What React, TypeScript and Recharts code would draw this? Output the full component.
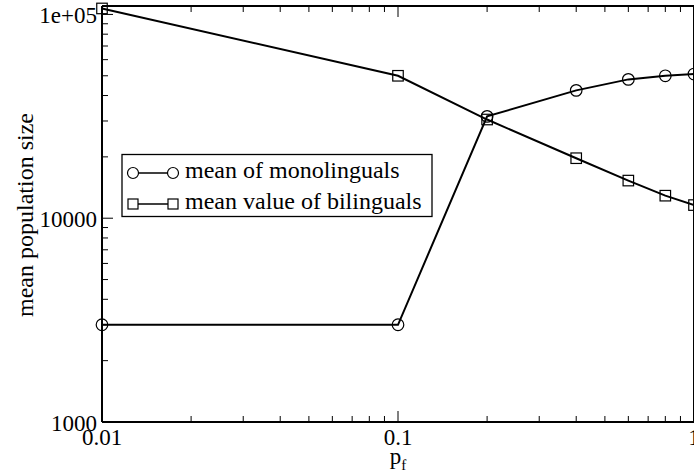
import React from 'react';
import { LineChart, Line, XAxis, YAxis } from 'recharts';

const pf = [0.01, 0.1, 0.2, 0.4, 0.6, 0.8, 1.0];
const monolinguals = [3000, 3000, 31600, 42400, 48000, 50000, 51000];
const bilinguals = [107000, 50000, 30500, 19700, 15300, 12900, 11600];

const xTicks = [0.01, 0.02, 0.03, 0.04, 0.05, 0.06, 0.07, 0.08, 0.09, 0.1, 0.2, 0.3, 0.4, 0.5, 0.6, 0.7, 0.8, 0.9, 1];
const xMajorTicks = [0.01, 0.1, 1];
const xTickLabels = ['0.01', '0.1', '1'];
const yTicks = [1000, 2000, 3000, 4000, 5000, 6000, 7000, 8000, 9000, 10000, 20000, 30000, 40000, 50000, 60000, 70000, 80000, 90000, 100000];
const yMajorTicks = [1000, 10000, 100000];
const yTickLabels = ['1000', '10000', '1e+05'];

const seriesNames = ['mean of monolinguals', 'mean value of bilinguals'];
const xTitle = 'p';
const xTitleSub = 'f';
const yTitle = 'mean population size';

const data = pf.map((p, i) => ({ pf: p, mono: monolinguals[i], bili: bilinguals[i] }));

const FONT = "'Liberation Serif', 'Times New Roman', Times, serif";
const FS = 23;
const MAJOR = 11;
const MINOR = 6;
const txt = { fontFamily: FONT };

const majorIndex = (list: number[], v: number) => list.findIndex((m) => Math.abs(m - v) / m < 1e-9);

const XBottomTick = (props: any) => {
  const { x, y, payload } = props;
  const idx = majorIndex(xMajorTicks, payload.value);
  const len = idx >= 0 ? MAJOR : MINOR;
  return (
    <g>
      <line x1={x} x2={x} y1={y} y2={y - len} stroke="#000" strokeWidth={1} />
      {idx >= 0 && (
        <text x={x} y={y + 23} textAnchor="middle" fontSize={FS} style={txt} fill="#000">
          {xTickLabels[idx]}
        </text>
      )}
    </g>
  );
};

const XTopTick = (props: any) => {
  const { x, y, payload } = props;
  const idx = majorIndex(xMajorTicks, payload.value);
  const len = idx >= 0 ? MAJOR : MINOR;
  return <line x1={x} x2={x} y1={y} y2={y + len} stroke="#000" strokeWidth={1} />;
};

const YLeftTick = (props: any) => {
  const { x, y, payload } = props;
  const idx = majorIndex(yMajorTicks, payload.value);
  const len = idx >= 0 ? MAJOR : MINOR;
  return (
    <g>
      <line x1={x} x2={x + len} y1={y} y2={y} stroke="#000" strokeWidth={1} />
      {idx >= 0 && (
        <text x={x - 5} y={y + 8.5} textAnchor="end" fontSize={FS} style={txt} fill="#000">
          {yTickLabels[idx]}
        </text>
      )}
    </g>
  );
};

const YRightTick = (props: any) => {
  const { x, y, payload } = props;
  const idx = majorIndex(yMajorTicks, payload.value);
  const len = idx >= 0 ? MAJOR : MINOR;
  return <line x1={x} x2={x - len} y1={y} y2={y} stroke="#000" strokeWidth={1} />;
};

const CircleDot = (props: any) => {
  const { cx, cy, index } = props;
  return <circle key={`c-${index}`} cx={cx} cy={cy} r={5.8} fill="none" stroke="#000" strokeWidth={1.2} />;
};

const SquareDot = (props: any) => {
  const { cx, cy, index } = props;
  const s = 10.5;
  return <rect key={`s-${index}`} x={cx - s / 2} y={cy - s / 2} width={s} height={s} fill="none" stroke="#000" strokeWidth={1.2} />;
};

const axisLine = { stroke: '#000', strokeWidth: 2 };

export default function App() {
  return (
    <div style={{ position: 'absolute', left: 0, top: 0, width: 694, height: 473, overflow: 'hidden', background: '#fff' }}>
      <LineChart width={700} height={473} data={data} margin={{ top: 0, right: 0, bottom: 0, left: 0 }}>
        <XAxis
          dataKey="pf"
          type="number"
          scale="log"
          domain={[0.01, 1]}
          ticks={xTicks}
          interval={0}
          height={51}
          tickSize={0}
          tickMargin={0}
          tickLine={false}
          axisLine={axisLine}
          tick={XBottomTick}
        />
        <XAxis
          xAxisId="top"
          orientation="top"
          dataKey="pf"
          type="number"
          scale="log"
          domain={[0.01, 1]}
          ticks={xTicks}
          interval={0}
          height={6}
          tickSize={0}
          tickMargin={0}
          tickLine={false}
          axisLine={axisLine}
          tick={XTopTick}
        />
        <YAxis
          type="number"
          scale="log"
          domain={[1000, 110000]}
          ticks={yTicks}
          interval={0}
          width={102}
          tickSize={0}
          tickMargin={0}
          tickLine={false}
          axisLine={axisLine}
          tick={YLeftTick}
        />
        <YAxis
          yAxisId="right"
          orientation="right"
          type="number"
          scale="log"
          domain={[1000, 110000]}
          ticks={yTicks}
          interval={0}
          width={6}
          tickSize={0}
          tickMargin={0}
          tickLine={false}
          axisLine={axisLine}
          tick={YRightTick}
        />
        <Line
          dataKey="mono"
          name={seriesNames[0]}
          type="linear"
          stroke="#000"
          strokeWidth={2}
          dot={CircleDot}
          activeDot={false}
          isAnimationActive={false}
        />
        <Line
          dataKey="bili"
          name={seriesNames[1]}
          type="linear"
          stroke="#000"
          strokeWidth={2}
          dot={SquareDot}
          activeDot={false}
          isAnimationActive={false}
        />
      </LineChart>
      <svg
        width={694}
        height={473}
        style={{ position: 'absolute', left: 0, top: 0, pointerEvents: 'none', fontFamily: FONT }}
      >
        <text x={398} y={464} textAnchor="middle" fontSize={FS} fill="#000" style={txt}>
          {xTitle}
          <tspan dy={6} fontSize={15}>{xTitleSub}</tspan>
        </text>
        <text x={33} y={215} transform="rotate(-90, 33, 215)" textAnchor="middle" fontSize={24} fill="#000" style={txt}>
          {yTitle}
        </text>
        <rect x={122} y={154.5} width={310} height={62} fill="#fff" stroke="#000" strokeWidth={1.3} />
        <line x1={133} x2={173} y1={173} y2={173} stroke="#000" strokeWidth={1.3} />
        <circle cx={133} cy={173} r={5.5} fill="#fff" stroke="#000" strokeWidth={1.2} />
        <circle cx={173} cy={173} r={5.5} fill="#fff" stroke="#000" strokeWidth={1.2} />
        <text x={185} y={178} fontSize={24} fill="#000" style={txt}>{seriesNames[0]}</text>
        <line x1={133} x2={173} y1={204} y2={204} stroke="#000" strokeWidth={1.3} />
        <rect x={128} y={199} width={10} height={10} fill="#fff" stroke="#000" strokeWidth={1.2} />
        <rect x={168} y={199} width={10} height={10} fill="#fff" stroke="#000" strokeWidth={1.2} />
        <text x={185} y={209} fontSize={24} fill="#000" style={txt}>{seriesNames[1]}</text>
      </svg>
    </div>
  );
}
